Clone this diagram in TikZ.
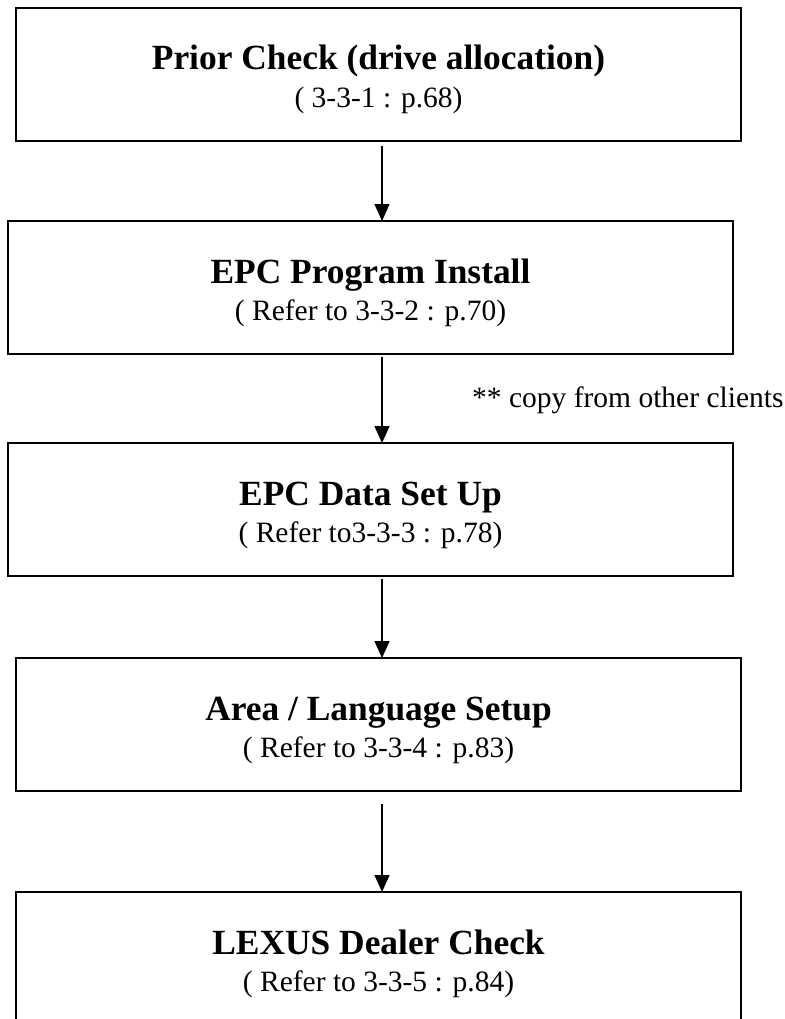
\documentclass[tikz,border=0pt]{standalone}
\usepackage{fontspec}
\setmainfont{Liberation Serif}
\usetikzlibrary{arrows.meta,positioning}

\begin{document}
\begin{tikzpicture}[
  x=1pt, y=-1pt,
  box/.style={draw, line width=1.8pt, minimum width=725pt, minimum height=133pt,
              anchor=north west, inner sep=0pt, outer sep=0pt},
  head/.style={anchor=base, inner sep=0pt,
               font=\fontsize{35.4}{40}\selectfont\bfseries},
  ref/.style={anchor=base, inner sep=0pt, font=\fontsize{29.5}{34}\selectfont},
  flow/.style={->, line width=1.3pt},
  >={Triangle[length=17pt, width=15pt]}]
  \useasboundingbox (0,0) rectangle (784,1019);
  \coordinate (ax) at (382,0);
  % steps
  \node[box] (prior) at (16,8) {};
  \node[box] (install) at (8,221) {};
  \node[box] (data) at (8,443) {};
  \node[box] (lang) at (16,658) {};
  \node[box] (dealer) at (16,892) {};
  % titles and references
  \node[head] (priorT) at ([yshift=-62pt]prior.north) {Prior Check (drive allocation)};
  \node[ref] (priorR) at ([yshift=-99.5pt]prior.north) {( 3-3-1 : p.68)};
  \node[head] (installT) at ([yshift=-62pt]install.north) {EPC Program Install};
  \node[ref] (installR) at ([yshift=-99.5pt]install.north) {( Refer to 3-3-2 : p.70)};
  \node[head] (dataT) at ([yshift=-62pt]data.north) {EPC Data Set Up};
  \node[ref] (dataR) at ([yshift=-99.5pt]data.north) {( Refer to3-3-3 : p.78)};
  \node[head] (langT) at ([yshift=-62pt]lang.north) {Area / Language Setup};
  \node[ref] (langR) at ([yshift=-99.5pt]lang.north) {( Refer to 3-3-4 : p.83)};
  \node[head] (dealerT) at ([yshift=-62pt]dealer.north) {LEXUS Dealer Check};
  \node[ref] (dealerR) at ([yshift=-99.5pt]dealer.north) {( Refer to 3-3-5 : p.84)};
  \node[ref, anchor=base west] (copynote) at (472,407) {** copy from other clients};
  % flow
  \draw[flow, shorten <=5pt] (prior.south -| ax) -- (install.north -| ax);
  \draw[flow, shorten <=3pt] (install.south -| ax) -- (data.north -| ax);
  \draw[flow, shorten <=3pt] (data.south -| ax) -- (lang.north -| ax);
  \draw[flow, shorten <=13pt] (lang.south -| ax) -- (dealer.north -| ax);
\end{tikzpicture}
\end{document}
